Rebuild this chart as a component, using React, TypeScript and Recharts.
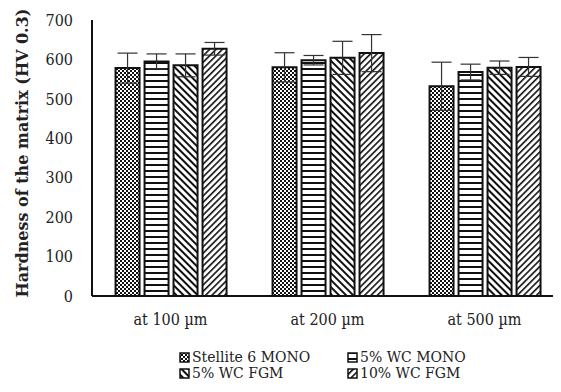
import React from "react";
import { BarChart, Bar, XAxis, YAxis, ErrorBar } from "recharts";

const categories = ["at 100 µm", "at 200 µm", "at 500 µm"];
const stellite = [578, 580, 532];
const stelliteErr = [38, 37, 61];
const wcMono = [595, 598, 568];
const wcMonoErr = [19, 12, 20];
const fgm5 = [585, 604, 579];
const fgm5Err = [29, 42, 17];
const fgm10 = [627, 616, 581];
const fgm10Err = [16, 47, 24];
const yTicks = [0, 100, 200, 300, 400, 500, 600, 700];

const SERIES = [
  { key: "stellite", name: "Stellite 6 MONO", fill: "url(#pCheck)" },
  { key: "wcMono", name: "5% WC MONO", fill: "url(#pHoriz)" },
  { key: "fgm5", name: "5% WC FGM", fill: "url(#pBack)" },
  { key: "fgm10", name: "10% WC FGM", fill: "url(#pFwd)" },
];

const data = categories.map((c, i) => ({
  cat: c,
  stellite: stellite[i],
  stelliteErr: stelliteErr[i],
  wcMono: wcMono[i],
  wcMonoErr: wcMonoErr[i],
  fgm5: fgm5[i],
  fgm5Err: fgm5Err[i],
  fgm10: fgm10[i],
  fgm10Err: fgm10Err[i],
}));

const FONT = "'DejaVu Serif', serif";
const TICK_FONT = "'DejaVu Serif Condensed', 'DejaVu Serif', serif";

function Patterns() {
  return (
    <svg width={0} height={0} style={{ position: "absolute" }}>
      <defs>
        <pattern id="pCheck" width={4} height={4} patternUnits="userSpaceOnUse">
          <rect width={4} height={4} fill="#fff" />
          <rect x={0} y={0} width={2} height={2} fill="#111" />
          <rect x={2} y={2} width={2} height={2} fill="#111" />
        </pattern>
        <pattern id="pHoriz" width={6} height={6} patternUnits="userSpaceOnUse">
          <rect width={6} height={6} fill="#fff" />
          <rect x={0} y={0} width={6} height={2} fill="#111" />
        </pattern>
        <pattern
          id="pBack"
          width={5}
          height={5}
          patternUnits="userSpaceOnUse"
          patternTransform="rotate(-45)"
        >
          <rect width={5} height={5} fill="#fff" />
          <rect x={0} y={0} width={2} height={5} fill="#111" />
        </pattern>
        <pattern
          id="pFwd"
          width={4.5}
          height={4.5}
          patternUnits="userSpaceOnUse"
          patternTransform="rotate(45)"
        >
          <rect width={4.5} height={4.5} fill="#fff" />
          <rect x={0} y={0} width={1.6} height={4.5} fill="#111" />
        </pattern>
      </defs>
    </svg>
  );
}

function LegendBox() {
  return (
    <div
      style={{
        position: "absolute",
        left: 171,
        top: 341,
        display: "grid",
        gridTemplateColumns: "168px 160px",
        fontFamily: FONT,
        fontSize: 14,
        lineHeight: "16px",
        color: "#222",
      }}
    >
      {SERIES.map((s) => (
        <div key={s.key} style={{ display: "flex", alignItems: "center" }}>
          <svg width={11} height={11} style={{ marginRight: 2 }}>
            <rect x={1} y={1} width={9} height={9} fill={s.fill} stroke="#111" strokeWidth={1.5} />
          </svg>
          <span>{s.name}</span>
        </div>
      ))}
    </div>
  );
}

export default function App() {
  return (
    <div style={{ position: "relative", width: 553, height: 384, overflow: "hidden" }}>
      <Patterns />
      <BarChart
        width={560}
        height={330}
        data={data}
        margin={{ top: 12, right: 5, left: 24, bottom: 0 }}
        barCategoryGap="15%"
        barGap={5}
      >
        <XAxis
          dataKey="cat"
          tickLine={false}
          tickSize={0}
          tickMargin={18}
          axisLine={{ stroke: "#111", strokeWidth: 2 }}
          tick={{ fontSize: 16, fill: "#222", fontFamily: TICK_FONT }}
          height={42}
        />
        <XAxis
          xAxisId="top"
          orientation="top"
          dataKey="cat"
          tick={false}
          tickLine={false}
          height={0}
          axisLine={{ stroke: "#111", strokeWidth: 2 }}
        />
        <YAxis
          domain={[0, 700]}
          ticks={yTicks}
          width={60}
          tickLine={false}
          tickSize={0}
          tickMargin={19}
          axisLine={{ stroke: "#111", strokeWidth: 2 }}
          tick={{ fontSize: 16, fill: "#222", fontFamily: TICK_FONT }}
          label={{
            content: () => (
              <text
                x={14}
                y={145}
                transform="rotate(-90 14 145)"
                textAnchor="middle"
                dominantBaseline="central"
                fontFamily={FONT}
                fontWeight="bold"
                fontSize={16}
                fill="#222"
              >
                Hardness of the matrix (HV 0.3)
              </text>
            ),
          }}
        />
        {SERIES.map((s) => (
          <Bar
            key={s.key}
            dataKey={s.key}
            name={s.name}
            fill={s.fill}
            stroke="#111"
            strokeWidth={2}
            isAnimationActive={false}
          >
            <ErrorBar
              dataKey={`${s.key}Err`}
              width={10}
              stroke="#333"
              strokeWidth={1.2}
              isAnimationActive={false}
            />
          </Bar>
        ))}
      </BarChart>
      <LegendBox />
    </div>
  );
}
